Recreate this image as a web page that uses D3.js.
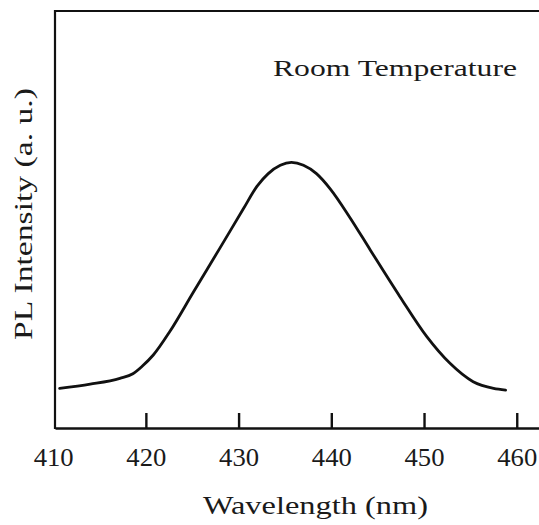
<!DOCTYPE html>
<html>
<head>
<meta charset="utf-8">
<script src="https://cdn.jsdelivr.net/npm/d3@7/dist/d3.min.js"></script>
<style>
  html, body { margin: 0; padding: 0; background: #fff; }
  svg { display: block; }
  text { font-family: "Liberation Serif", "DejaVu Serif", serif; fill: #1a1a1a; }
</style>
</head>
<body>
<svg id="chart" width="539" height="525"></svg>
<script>
// Data (wavelength in nm, PL intensity in arbitrary units)
const wavelengths = [410.7, 414.0, 417.2, 418.6, 419.6, 420.8, 422.6, 425.1, 428.0, 430.5, 432.0, 433.2, 434.5, 435.7, 437.0, 438.4, 439.9, 442.0, 444.2, 447.4, 450.3, 452.8, 455.3, 457.5, 458.8];
const intensities = [0.095, 0.105, 0.119, 0.130, 0.148, 0.175, 0.232, 0.325, 0.432, 0.525, 0.580, 0.610, 0.630, 0.637, 0.630, 0.610, 0.573, 0.505, 0.427, 0.315, 0.219, 0.155, 0.111, 0.095, 0.091];
const xTicks = [410, 420, 430, 440, 450, 460];
const xLabel = "Wavelength (nm)";
const yLabel = "PL Intensity (a. u.)";
const annotation = "Room Temperature";

const svg = d3.select("#chart");
const mLeft = 55, mRight = 539, mTop = 11, mBottom = 428;

const x = d3.scaleLinear().domain([410.2, 462.4]).range([mLeft, mRight]);
const y = d3.scaleLinear().domain([0, 1]).range([mBottom, mTop]);

// Frame: top and left lines
svg.append("line").attr("x1", mLeft).attr("x2", mRight).attr("y1", mTop).attr("y2", mTop)
  .attr("stroke", "#111").attr("stroke-width", 2.2);
svg.append("line").attr("x1", mLeft).attr("x2", mLeft).attr("y1", mTop - 1).attr("y2", mBottom + 1)
  .attr("stroke", "#111").attr("stroke-width", 2.2);

// Bottom axis with inward ticks
const xAxis = d3.axisBottom(x).tickValues(xTicks).tickSizeInner(-15).tickSizeOuter(0).tickFormat(d3.format("d"));
const gx = svg.append("g").attr("transform", `translate(0,${mBottom})`).call(xAxis);
gx.select(".domain").attr("stroke", "#111").attr("stroke-width", 2.4);
gx.selectAll(".tick line").attr("stroke", "#111").attr("stroke-width", 2.4)
  .filter(d => d === 410).remove();
gx.selectAll(".tick text")
  .attr("y", 38).attr("dy", 0)
  .style("font-family", '"Liberation Serif", "DejaVu Serif", serif')
  .style("font-size", "25px").attr("fill", "#1a1a1a")
  .attr("textLength", 40).attr("lengthAdjust", "spacingAndGlyphs");

// Curve
const pts = wavelengths.map((w, i) => [w, intensities[i]]);
const line = d3.line().x(d => x(d[0])).y(d => y(d[1])).curve(d3.curveMonotoneX);
svg.append("path").datum(pts).attr("d", line)
  .attr("fill", "none").attr("stroke", "#111").attr("stroke-width", 2.8)
  .attr("stroke-linecap", "round").attr("stroke-linejoin", "round");

// Labels
svg.append("text").attr("x", 203).attr("y", 514)
  .style("font-size", "25px").attr("textLength", 225).attr("lengthAdjust", "spacingAndGlyphs")
  .text(xLabel);

svg.append("text").attr("transform", "translate(32,340) rotate(-90)")
  .style("font-size", "26px").attr("textLength", 252).attr("lengthAdjust", "spacingAndGlyphs")
  .text(yLabel);

svg.append("text").attr("x", 273).attr("y", 76)
  .style("font-size", "23px").attr("textLength", 244).attr("lengthAdjust", "spacingAndGlyphs")
  .text(annotation);
</script>
</body>
</html>
